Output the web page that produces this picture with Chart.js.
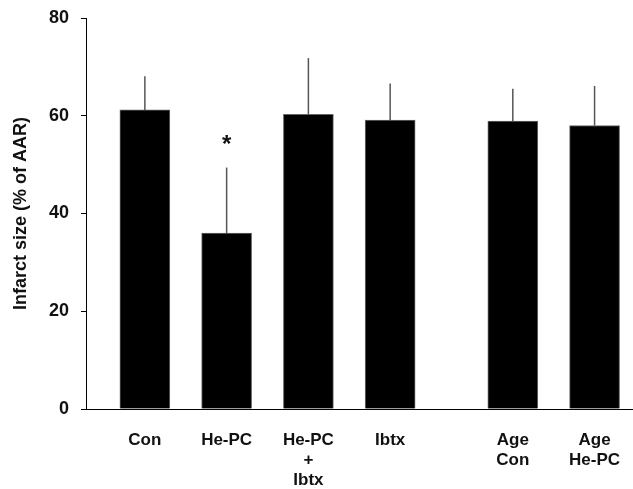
<!DOCTYPE html>
<html>
<head>
<meta charset="utf-8">
<script src="https://cdn.jsdelivr.net/npm/chart.js@4"></script>
<style>
  html, body { margin: 0; padding: 0; background: #fff; overflow: hidden; }
  #wrap { width: 633px; height: 489px; }
</style>
</head>
<body>
<div id="wrap"><canvas id="infarctChart" width="633" height="489"></canvas></div>
<script>
// groups, labels and values
const groupLabels = [
  ['Con'], ['He-PC'], ['He-PC', '+', 'Ibtx'], ['Ibtx'],
  ['Age', 'Con'], ['Age', 'He-PC']
];
const groupOf = [0, 0, 0, 0, 1, 1]; // young vs aged block
const infarctMean = [61.2, 36.0, 60.3, 59.1, 58.9, 58.0];
const infarctErr = [6.9, 13.4, 11.5, 7.5, 6.6, 8.1];
const significant = [false, true, false, false, false, false];
const yTicks = [0, 20, 40, 60, 80];

// x position: index plus half a slot gap between the two blocks
const xPos = groupLabels.map((l, i) => i + groupOf[i] * 0.5);

const fontFam = '"Liberation Sans", Arial, sans-serif';

const errorBars = {
  id: 'errorBars',
  afterDatasetsDraw(chart) {
    const { ctx, scales } = chart;
    const x = scales.x, y = scales.y;
    ctx.save();
    ctx.strokeStyle = '#555';
    ctx.lineWidth = 1.5;
    infarctMean.forEach((m, i) => {
      const px = x.getPixelForValue(xPos[i]);
      ctx.beginPath();
      ctx.moveTo(px, y.getPixelForValue(m));
      ctx.lineTo(px, y.getPixelForValue(m + infarctErr[i]));
      ctx.stroke();
      if (significant[i]) {
        ctx.fillStyle = '#111';
        ctx.font = 'bold 24px ' + fontFam;
        ctx.textAlign = 'center';
        ctx.textBaseline = 'middle';
        ctx.fillText('*', px, y.getPixelForValue(m + infarctErr[i] + 4.6));
      }
    });
    ctx.restore();
  }
};

new Chart(document.getElementById('infarctChart'), {
  type: 'bar',
  data: {
    datasets: [{
      data: infarctMean.map((v, i) => ({ x: xPos[i], y: v })),
      backgroundColor: '#000',
      borderColor: '#666',
      borderWidth: 1,
      barThickness: 50
    }]
  },
  options: {
    responsive: false,
    animation: false,
    layout: { padding: { left: 0, right: 0, top: 18, bottom: 0 } },
    plugins: { legend: { display: false }, tooltip: { enabled: false } },
    scales: {
      x: {
        type: 'linear',
        offset: false,
        min: -0.72,
        max: 5.97,
        afterBuildTicks(scale) { scale.ticks = xPos.map(v => ({ value: v })); },
        afterFit(scale) { scale.height = 80; scale.paddingLeft = 0; scale.paddingRight = 0; },
        grid: { display: true, drawOnChartArea: false, drawTicks: false },
        border: { color: '#000', width: 1 },
        ticks: {
          autoSkip: false,
          maxRotation: 0,
          padding: 22,
          color: '#111',
          font: { family: fontFam, size: 17, weight: 'bold', lineHeight: 1.15 },
          callback: (v, i) => groupLabels[i]
        }
      },
      y: {
        min: 0,
        max: 80,
        afterBuildTicks(scale) { scale.ticks = yTicks.map(v => ({ value: v })); },
        afterFit(scale) { scale.width = 86; scale.paddingTop = 0; scale.paddingBottom = 0; },
        grid: { display: true, drawOnChartArea: false, drawTicks: true, tickLength: 5, color: '#000' },
        border: { color: '#000', width: 1 },
        title: {
          display: true,
          text: 'Infarct size (% of AAR)',
          color: '#111',
          font: { family: fontFam, size: 18, weight: 'bold' },
          padding: { top: 10, bottom: 6 }
        },
        ticks: {
          padding: 12,
          color: '#111',
          font: { family: fontFam, size: 18, weight: 'bold' }
        }
      }
    }
  },
  plugins: [errorBars]
});
</script>
</body>
</html>
